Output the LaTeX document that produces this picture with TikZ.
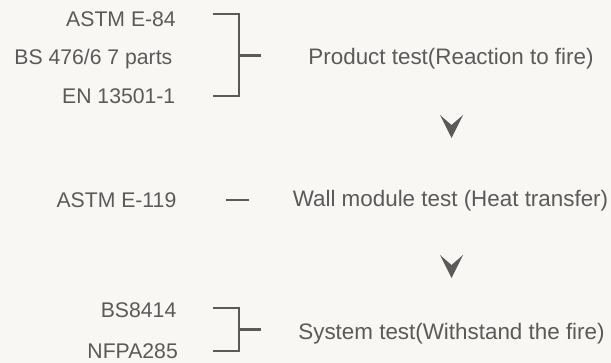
\documentclass[tikz,border=0pt]{standalone}
\usepackage{fontspec}
\setmainfont{Liberation Sans}
\definecolor{bgc}{HTML}{F8F7F3}
\definecolor{txt}{HTML}{5A5A5A}
\definecolor{ln}{HTML}{5A5A5A}
\begin{document}
\begin{tikzpicture}[x=1pt,y=-1pt,
  lefttxt/.style={anchor=base east,inner sep=0pt,text=txt,font=\fontsize{21.2}{24}\selectfont},
  righttxt/.style={anchor=base,inner sep=0pt,text=txt,font=\fontsize{22.4}{26}\selectfont},
  brk/.style={draw=ln,line width=2.8pt},
  chev/.style={fill=ln,draw=none}]
\fill[bgc] (0,0) rectangle (611,363);
\useasboundingbox (0,0) rectangle (611,363);
% left labels
\node[lefttxt] (a1) at (176,26.5) {ASTM E-84};
\node[lefttxt] (a2) at (172.5,64.5) {BS 476/6 7 parts};
\node[lefttxt] (a3) at (175.5,103.5) {EN 13501-1};
\node[lefttxt] (b1) at (176.5,207.5) {ASTM E-119};
\node[lefttxt] (c1) at (176.5,317.5) {BS8414};
\node[lefttxt] (c2) at (178,358.5) {NFPA285};
% right labels
\node[righttxt] (p) at (451,65) {Product test(Reaction to fire)};
\node[righttxt] (w) at (450.5,207) {Wall module test (Heat transfer)};
\node[righttxt] (s) at (451.5,340) {System test(Withstand the fire)};
% bracket 1
\coordinate (k1t) at (213,14);
\coordinate (k1b) at (213,96);
\coordinate (k1m) at (261,55.5);
\draw[brk] (k1t) -| (239,96) -- (k1b);
\draw[brk] (239,55.5) -- (k1m);
% dash
\coordinate (d1) at (226,200);
\coordinate (d2) at (249,200);
\draw[brk] (d1) -- (d2);
% bracket 2
\coordinate (k2t) at (213,308);
\coordinate (k2b) at (213,351);
\coordinate (k2m) at (261,329.5);
\draw[brk] (k2t) -| (239,351) -- (k2b);
\draw[brk] (239,329.5) -- (k2m);
% chevrons
\fill[chev] (440,115) -- (451.5,125) -- (463,115) -- (451.5,138) -- cycle;
\fill[chev] (440,255) -- (451.5,265) -- (463,255) -- (451.5,278) -- cycle;
\end{tikzpicture}
\end{document}
